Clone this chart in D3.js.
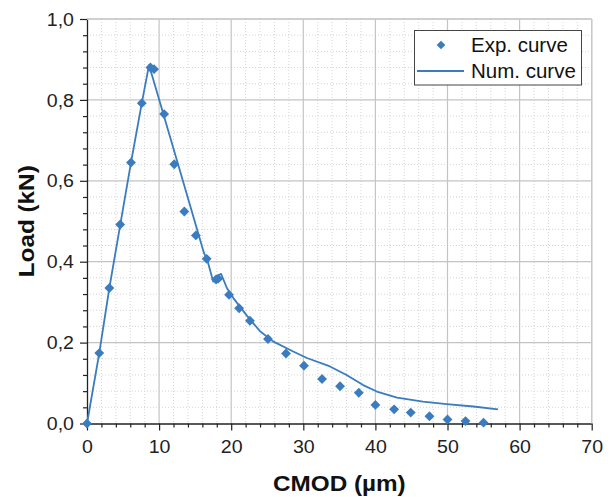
<!DOCTYPE html>
<html><head><meta charset="utf-8">
<script src="https://cdn.jsdelivr.net/npm/d3@7"></script>
<style>body{margin:0;background:#fff}svg{display:block}text{font-family:Arial,"Liberation Sans",sans-serif}</style>
</head><body>
<script>
const expX = [0, 1.7, 3.1, 4.6, 6.1, 7.6, 8.8, 9.3, 10.7, 12.1, 13.5, 15.1, 16.6, 17.9, 18.2, 19.7, 21.1, 22.6, 25.1, 27.6, 30.1, 32.6, 35.1, 37.7, 40.0, 42.6, 44.9, 47.5, 50.0, 52.5, 55.0];
const expY = [0, 0.174, 0.335, 0.492, 0.645, 0.792, 0.880, 0.876, 0.765, 0.641, 0.524, 0.465, 0.407, 0.356, 0.358, 0.318, 0.285, 0.254, 0.209, 0.173, 0.143, 0.110, 0.092, 0.076, 0.046, 0.035, 0.027, 0.018, 0.010, 0.006, 0.002];
const numX = [0, 1.7, 3.1, 4.6, 6.1, 7.6, 8.6, 12.6, 16.2, 16.8, 17.5, 18.0, 18.6, 19.4, 20.3, 22.2, 24.0, 25.8, 28.6, 30.5, 33.7, 36.0, 38.3, 40.2, 43.0, 46.6, 49.9, 53.6, 57.0];
const numY = [0, 0.174, 0.335, 0.490, 0.645, 0.792, 0.886, 0.643, 0.423, 0.397, 0.351, 0.364, 0.370, 0.335, 0.310, 0.266, 0.228, 0.203, 0.178, 0.162, 0.141, 0.120, 0.095, 0.079, 0.064, 0.054, 0.048, 0.042, 0.035];
const xTicks = [0, 10, 20, 30, 40, 50, 60, 70];
const yTicks = [0, 0.2, 0.4, 0.6, 0.8, 1.0];
const yTickLabels = ["0,0", "0,2", "0,4", "0,6", "0,8", "1,0"];
const seriesNames = ["Exp. curve", "Num. curve"];
const xTitle = "CMOD (µm)", yTitle = "Load (kN)";

const W = 614, H = 497;
const L = 87, R = 591.7, T = 19, B = 423.5;
const blue = "#3a7cbe";
const svg = d3.select("body").append("svg").attr("width", W).attr("height", H);
const x = d3.scaleLinear().domain([0, 70]).range([L, R]);
const y = d3.scaleLinear().domain([0, 1]).range([B, T]);

// minor grid
const xMinor = d3.range(0, 70.001, 2).filter(v => v % 10 !== 0);
const yMinor = d3.range(0, 1.0001, 0.04).map(v => +v.toFixed(2)).filter(v => Math.abs(v*5 - Math.round(v*5)) > 1e-6);
const g = svg.append("g");
g.selectAll(".mx").data(xMinor).join("line").attr("x1", d => x(d)).attr("x2", d => x(d)).attr("y1", T).attr("y2", B)
  .attr("stroke", "#d4d4d4").attr("stroke-dasharray", "1,2").attr("stroke-width", 1);
g.selectAll(".my").data(yMinor).join("line").attr("y1", d => y(d)).attr("y2", d => y(d)).attr("x1", L).attr("x2", R)
  .attr("stroke", "#d4d4d4").attr("stroke-dasharray", "1,2").attr("stroke-width", 1);
// major grid
g.selectAll(".gx").data(xTicks.slice(1)).join("line").attr("x1", d => x(d)).attr("x2", d => x(d)).attr("y1", T).attr("y2", B)
  .attr("stroke", "#c4c4c4").attr("stroke-width", 1.2);
g.selectAll(".gy").data(yTicks.slice(1)).join("line").attr("y1", d => y(d)).attr("y2", d => y(d)).attr("x1", L).attr("x2", R)
  .attr("stroke", "#c4c4c4").attr("stroke-width", 1.2);

// axes
const xAxis = svg.append("g").attr("transform", `translate(0,${B})`)
  .call(d3.axisBottom(x).tickValues(xTicks).tickSize(7).tickSizeOuter(0).tickFormat(d3.format("d")));
svg.append("g").attr("transform", `translate(0,${B})`)
  .call(d3.axisBottom(x).tickValues(xMinor).tickSize(4).tickSizeOuter(0).tickFormat(""))
  .call(a => a.select(".domain").remove());
const yAxis = svg.append("g").attr("transform", `translate(${L},0)`)
  .call(d3.axisLeft(y).tickValues(yTicks).tickSize(7).tickSizeOuter(0).tickFormat((d, i) => yTickLabels[i]));
svg.append("g").attr("transform", `translate(${L},0)`)
  .call(d3.axisLeft(y).tickValues(yMinor).tickSize(4).tickSizeOuter(0).tickFormat(""))
  .call(a => a.select(".domain").remove());
svg.selectAll(".domain").attr("stroke", "#222").attr("stroke-width", 1.3);
svg.selectAll(".tick line").attr("stroke", "#222").attr("stroke-width", 1.2);
xAxis.selectAll("text").attr("font-size", 17.5).attr("fill", "#222").attr("dy", null).attr("y", 0)
  .attr("transform", "translate(0,29) scale(1.12,1)");
yAxis.selectAll("text").attr("font-size", 17.5).attr("fill", "#222").attr("dy", "0.35em").attr("x", 0)
  .attr("transform", "translate(-13,0) scale(1.12,1)");
// frame top/right
svg.append("line").attr("x1", L).attr("x2", R).attr("y1", T).attr("y2", T).attr("stroke", "#c8c8c8").attr("stroke-width", 1.3);
svg.append("line").attr("x1", R).attr("x2", R).attr("y1", T).attr("y2", B).attr("stroke", "#c8c8c8").attr("stroke-width", 1.3);

// titles
svg.append("text").attr("transform", `translate(${(L+R)/2},491) scale(1.08,1)`).attr("text-anchor", "middle")
  .attr("font-size", 22.5).attr("font-weight", "bold").attr("fill", "#111").text(xTitle);
svg.append("text").attr("transform", `translate(34,${(T+B)/2}) rotate(-90) scale(1.08,1)`).attr("text-anchor", "middle")
  .attr("font-size", 22.5).attr("font-weight", "bold").attr("fill", "#111").text(yTitle);

// data
const numData = numX.map((v, i) => [v, numY[i]]);
const expData = expX.map((v, i) => [v, expY[i]]);
svg.append("path").datum(numData).attr("d", d3.line().x(d => x(d[0])).y(d => y(d[1])))
  .attr("fill", "none").attr("stroke", blue).attr("stroke-width", 1.8).attr("stroke-linejoin", "round");
const diamond = d3.symbol().type(d3.symbolDiamond2).size(62);
svg.selectAll(".pt").data(expData).join("path").attr("d", diamond)
  .attr("transform", d => `translate(${x(d[0])},${y(d[1])})`).attr("fill", blue);

// legend
const lg = svg.append("g");
lg.append("rect").attr("x", 414.5).attr("y", 30.5).attr("width", 167).attr("height", 54.5)
  .attr("fill", "#fff").attr("stroke", "#444").attr("stroke-width", 1);
lg.append("path").attr("d", d3.symbol().type(d3.symbolDiamond2).size(48)).attr("transform", "translate(441,45)").attr("fill", blue);
lg.append("line").attr("x1", 417).attr("x2", 464).attr("y1", 71).attr("y2", 71).attr("stroke", blue).attr("stroke-width", 1.8);
lg.append("text").attr("x", 471).attr("y", 52).attr("font-size", 20.5).attr("fill", "#111").text(seriesNames[0]);
lg.append("text").attr("x", 471).attr("y", 78).attr("font-size", 20.5).attr("fill", "#111").text(seriesNames[1]);
</script>
</body></html>
